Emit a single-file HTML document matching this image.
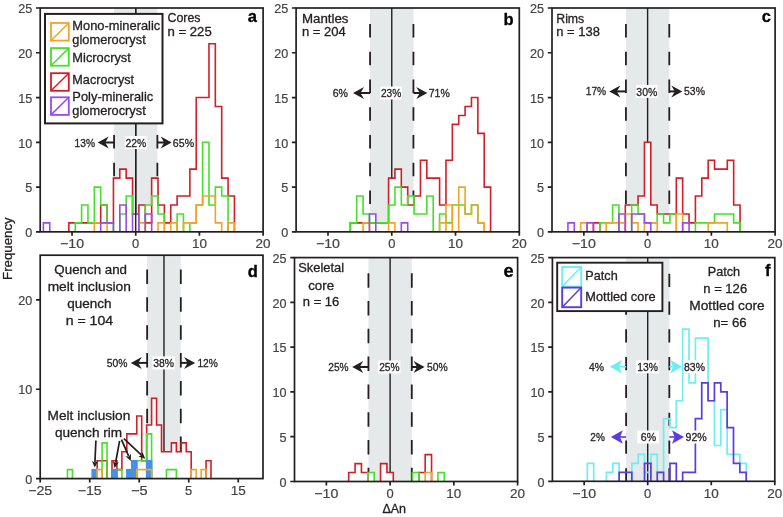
<!DOCTYPE html>
<html><head><meta charset="utf-8"><style>
html,body{margin:0;padding:0;background:#fff;}
svg{display:block;filter:blur(0.3px);font-family:"Liberation Sans", sans-serif;}
</style></head><body>
<svg width="783" height="517" viewBox="0 0 783 517">
<rect width="783" height="517" fill="#fff"/>
<rect x="114.08" y="8.00" width="43.31" height="223.85" fill="#e5e9e9"/>
<path d="M114.08 23.90V37.40M114.08 51.67V65.17M114.08 79.44V92.94M114.08 107.21V120.71M114.08 134.98V148.48M114.08 162.75V176.25M114.08 190.52V204.02M114.08 218.29V231.79" stroke="#231f20" stroke-width="1.8" fill="none"/>
<path d="M157.38 23.90V37.40M157.38 51.67V65.17M157.38 79.44V92.94M157.38 107.21V120.71M157.38 134.98V148.48M157.38 162.75V176.25M157.38 190.52V204.02M157.38 218.29V231.79" stroke="#231f20" stroke-width="1.8" fill="none"/>
<path d="M135.73 8.00V231.85" stroke="#231f20" stroke-width="1.4" fill="none"/>
<rect x="370.07" y="8.00" width="43.36" height="223.85" fill="#e5e9e9"/>
<path d="M370.07 23.90V37.40M370.07 51.67V65.17M370.07 79.44V92.94M370.07 107.21V120.71M370.07 134.98V148.48M370.07 162.75V176.25M370.07 190.52V204.02M370.07 218.29V231.79" stroke="#231f20" stroke-width="1.8" fill="none"/>
<path d="M413.44 23.90V37.40M413.44 51.67V65.17M413.44 79.44V92.94M413.44 107.21V120.71M413.44 134.98V148.48M413.44 162.75V176.25M413.44 190.52V204.02M413.44 218.29V231.79" stroke="#231f20" stroke-width="1.8" fill="none"/>
<path d="M391.76 8.00V231.85" stroke="#231f20" stroke-width="1.4" fill="none"/>
<rect x="625.94" y="8.00" width="43.35" height="223.85" fill="#e5e9e9"/>
<path d="M625.94 23.90V37.40M625.94 51.67V65.17M625.94 79.44V92.94M625.94 107.21V120.71M625.94 134.98V148.48M625.94 162.75V176.25M625.94 190.52V204.02M625.94 218.29V231.79" stroke="#231f20" stroke-width="1.8" fill="none"/>
<path d="M669.29 23.90V37.40M669.29 51.67V65.17M669.29 79.44V92.94M669.29 107.21V120.71M669.29 134.98V148.48M669.29 162.75V176.25M669.29 190.52V204.02M669.29 218.29V231.79" stroke="#231f20" stroke-width="1.8" fill="none"/>
<path d="M647.61 8.00V231.85" stroke="#231f20" stroke-width="1.4" fill="none"/>
<rect x="147.14" y="255.20" width="33.67" height="223.40" fill="#e5e9e9"/>
<path d="M147.14 269.50V284.00M147.14 297.35V311.85M147.14 325.20V339.70M147.14 353.05V367.55M147.14 380.90V395.40M147.14 408.75V423.25M147.14 436.60V451.10M147.14 464.45V478.60" stroke="#231f20" stroke-width="1.8" fill="none"/>
<path d="M180.81 269.50V284.00M180.81 297.35V311.85M180.81 325.20V339.70M180.81 353.05V367.55M180.81 380.90V395.40M180.81 408.75V423.25M180.81 436.60V451.10M180.81 464.45V478.60" stroke="#231f20" stroke-width="1.8" fill="none"/>
<path d="M163.98 255.20V478.60" stroke="#231f20" stroke-width="1.4" fill="none"/>
<rect x="368.44" y="257.60" width="43.35" height="223.90" fill="#e5e9e9"/>
<path d="M368.44 273.20V287.70M368.44 301.00V315.50M368.44 328.80V343.30M368.44 356.60V371.10M368.44 384.40V398.90M368.44 412.20V426.70M368.44 440.00V454.50M368.44 467.80V481.50" stroke="#231f20" stroke-width="1.8" fill="none"/>
<path d="M411.79 273.20V287.70M411.79 301.00V315.50M411.79 328.80V343.30M411.79 356.60V371.10M411.79 384.40V398.90M411.79 412.20V426.70M411.79 440.00V454.50M411.79 467.80V481.50" stroke="#231f20" stroke-width="1.8" fill="none"/>
<path d="M390.11 257.60V481.50" stroke="#231f20" stroke-width="1.4" fill="none"/>
<rect x="626.11" y="257.60" width="43.21" height="223.70" fill="#e5e9e9"/>
<path d="M626.11 273.70V286.90M626.11 301.50V314.70M626.11 329.30V342.50M626.11 357.10V370.30M626.11 384.90V398.10M626.11 412.70V425.90M626.11 440.50V453.70M626.11 468.30V481.30" stroke="#231f20" stroke-width="1.8" fill="none"/>
<path d="M669.32 273.70V286.90M669.32 301.50V314.70M669.32 329.30V342.50M669.32 357.10V370.30M669.32 384.90V398.10M669.32 412.70V425.90M669.32 440.50V453.70M669.32 468.30V481.30" stroke="#231f20" stroke-width="1.8" fill="none"/>
<path d="M647.71 257.60V481.30" stroke="#231f20" stroke-width="1.4" fill="none"/>
<path d="M43.38 231.85V222.90H49.75V231.85ZM68.86 231.85V222.90H75.23H81.60V204.99H87.96V222.90H94.33V187.08H100.70V204.99H107.07V222.90H113.44V178.13H119.81V169.17H126.18V178.13H132.54V213.94H138.91V204.99H145.28H151.65V178.13H158.02V204.99H164.39V222.90H170.76V204.99H177.12V196.03H183.49H189.86V169.17H196.23V97.54H202.60H208.97V43.82H215.34V106.49H221.70V178.13H228.07V196.03H234.44V231.85Z" fill="#fff" stroke="none"/>
<path d="M350.31 231.85V222.90H356.68V196.03H363.06V213.94H369.44H375.81V222.90H382.19H388.57V178.13H394.95V169.17H401.32V187.08H407.70V196.03H414.08H420.45V160.22H426.83V178.13H433.21H439.59V204.99H445.96V160.22H452.34V124.40H458.72V115.45H465.09V106.49H471.47V97.54H477.85V133.36H484.23V187.08H490.60V231.85Z" fill="#fff" stroke="none"/>
<path d="M567.94 231.85V222.90H574.31V231.85ZM580.68 231.85V222.90H587.06H593.43H599.81H606.18H612.56V204.99H618.93V213.94H625.30V204.99H631.68H638.05V196.03H644.43V142.31H650.80V204.99H657.18V213.94H663.55H669.92H676.30V178.13H682.67V213.94H689.05V222.90H695.42V196.03H701.80V178.13H708.17V160.22H714.54V169.17H720.92H727.29V160.22H733.67V204.99H740.04V231.85Z" fill="#fff" stroke="none"/>
<path d="M67.43 478.60V469.66H72.38V478.60ZM92.19 478.60V469.66H97.14V460.73H102.09V442.86H107.04V478.60ZM111.99 478.60V460.73H116.94V469.66H121.89V451.79H126.84V433.92H131.80H136.75V416.05H141.70V460.73H146.65V424.98H151.60V398.18H156.55V424.98H161.50V451.79H166.45H171.40V442.86H176.36V451.79H181.31V442.86H186.26V451.79H191.21V469.66H196.16V478.60ZM201.11 478.60V469.66H206.06V460.73H211.01V478.60Z" fill="#fff" stroke="none"/>
<path d="M348.68 481.50V472.54H355.06V463.59H361.43V472.54H367.80H374.18V481.50ZM380.55 481.50V463.59H386.93V472.54H393.30V481.50ZM412.42 481.50V472.54H418.80H425.17V454.63H431.55V481.50ZM437.92 481.50V472.54H444.30V481.50Z" fill="#fff" stroke="none"/>
<path d="M68.86 231.85V222.90H75.23H81.60H87.96H94.33H100.70V204.99H107.07V222.90H113.44V178.13H119.81V169.17H126.18V178.13H132.54V213.94H138.91V204.99H145.28V222.90H151.65V178.13H158.02V204.99H164.39V222.90H170.76V204.99H177.12V196.03H183.49H189.86V169.17H196.23V97.54H202.60H208.97V43.82H215.34V106.49H221.70V178.13H228.07V196.03H234.44V231.85" stroke="#d21e27" stroke-width="1.6" fill="none" stroke-linejoin="miter"/>
<path d="M75.23 231.85V222.90H81.60V204.99H87.96V222.90H94.33V187.08H100.70V204.99H107.07V222.90H113.44V231.85M119.81 231.85V213.94H126.18V196.03H132.54V213.94H138.91V231.85M145.28 231.85V204.99H151.65V196.03H158.02V213.94H164.39V231.85M177.12 231.85V213.94H183.49V231.85M189.86 231.85V222.90H196.23V204.99H202.60V142.31H208.97V204.99H215.34V187.08H221.70V196.03H228.07V231.85" stroke="#46e02a" stroke-width="1.6" fill="none" stroke-linejoin="miter"/>
<path d="M94.33 231.85V222.90H100.70H107.07V231.85M138.91 231.85V222.90H145.28V231.85M158.02 231.85V222.90H164.39V231.85M170.76 231.85V222.90H177.12V231.85M183.49 231.85V222.90H189.86H196.23V204.99H202.60V196.03H208.97H215.34V222.90H221.70V231.85M228.07 231.85V222.90H234.44V231.85" stroke="#f0a52a" stroke-width="1.6" fill="none" stroke-linejoin="miter"/>
<path d="M43.38 231.85V222.90H49.75V231.85M100.70 231.85V222.90H107.07H113.44V231.85M119.81 231.85V204.99H126.18V231.85M132.54 231.85V213.94H138.91V231.85M145.28 231.85V213.94H151.65V231.85" stroke="#9a4ce6" stroke-width="1.6" fill="none" stroke-linejoin="miter"/>
<path d="M135.73 8.00V231.85" stroke="#231f20" stroke-width="1.4" fill="none"/>
<path d="M350.31 231.85V222.90H356.68H363.06H369.44H375.81H382.19H388.57V178.13H394.95V169.17H401.32V187.08H407.70V204.99H414.08V196.03H420.45V160.22H426.83V178.13H433.21H439.59V204.99H445.96V160.22H452.34V124.40H458.72V115.45H465.09V106.49H471.47V97.54H477.85V133.36H484.23V187.08H490.60V231.85" stroke="#d21e27" stroke-width="1.6" fill="none" stroke-linejoin="miter"/>
<path d="M350.31 231.85V222.90H356.68V196.03H363.06V213.94H369.44V222.90H375.81H382.19H388.57V204.99H394.95V187.08H401.32V204.99H407.70V196.03H414.08V213.94H420.45H426.83V196.03H433.21V231.85M439.59 231.85V213.94H445.96V222.90H452.34V204.99H458.72H465.09V213.94H471.47V204.99H477.85V222.90H484.23V231.85" stroke="#46e02a" stroke-width="1.6" fill="none" stroke-linejoin="miter"/>
<path d="M363.06 231.85V222.90H369.44V231.85M388.57 231.85V222.90H394.95V231.85M439.59 231.85V222.90H445.96V204.99H452.34V231.85M458.72 231.85V187.08H465.09V213.94H471.47V204.99H477.85V222.90H484.23V231.85M445.96 231.85V222.90" stroke="#f0a52a" stroke-width="1.6" fill="none" stroke-linejoin="miter"/>
<path d="M369.44 231.85V213.94H375.81V231.85M401.32 231.85V222.90H407.70V231.85" stroke="#9a4ce6" stroke-width="1.6" fill="none" stroke-linejoin="miter"/>
<path d="M593.43 231.85V222.90H599.81V231.85M625.30 231.85V204.99H631.68H638.05V196.03H644.43V142.31H650.80V204.99H657.18V213.94H663.55H669.92H676.30V178.13H682.67V213.94H689.05V222.90H695.42V196.03H701.80V178.13H708.17V160.22H714.54V169.17H720.92H727.29V160.22H733.67V204.99H740.04V231.85" stroke="#d21e27" stroke-width="1.6" fill="none" stroke-linejoin="miter"/>
<path d="M599.81 231.85V222.90H606.18H612.56V204.99H618.93V231.85M631.68 231.85V204.99H638.05V213.94H644.43V222.90H650.80H657.18V213.94H663.55V222.90H669.92V213.94H676.30V231.85M695.42 231.85V222.90H701.80H708.17H714.54V213.94H720.92H727.29H733.67V222.90H740.04V231.85" stroke="#46e02a" stroke-width="1.6" fill="none" stroke-linejoin="miter"/>
<path d="M580.68 231.85V222.90H587.06V231.85M606.18 231.85V222.90H612.56H618.93H625.30V213.94H631.68V222.90H638.05V231.85M644.43 231.85V222.90H650.80H657.18V231.85M676.30 231.85V213.94H682.67V231.85M708.17 231.85V222.90H714.54H720.92H727.29V231.85" stroke="#f0a52a" stroke-width="1.6" fill="none" stroke-linejoin="miter"/>
<path d="M567.94 231.85V222.90H574.31V231.85M587.06 231.85V222.90H593.43V231.85M618.93 231.85V213.94H625.30V231.85M631.68 231.85V213.94H638.05H644.43V222.90H650.80V231.85M682.67 231.85V222.90H689.05V231.85" stroke="#9a4ce6" stroke-width="1.6" fill="none" stroke-linejoin="miter"/>
<path d="M97.14 478.60V460.73H102.09H107.04V478.60M111.99 478.60V460.73H116.94V469.66H121.89V451.79H126.84V433.92H131.80H136.75V416.05H141.70V460.73H146.65V424.98H151.60V398.18H156.55V424.98H161.50V451.79H166.45H171.40V442.86H176.36V451.79H181.31V442.86H186.26V451.79H191.21V478.60M206.06 478.60V460.73H211.01V478.60" stroke="#d21e27" stroke-width="1.6" fill="none" stroke-linejoin="miter"/>
<path d="M67.43 478.60V469.66H72.38V478.60M102.09 478.60V442.86H107.04V478.60M116.94 478.60V469.66H121.89V478.60M136.75 478.60V460.73H141.70H146.65V433.92H151.60V478.60M166.45 478.60V469.66H171.40H176.36V478.60" stroke="#46e02a" stroke-width="1.6" fill="none" stroke-linejoin="miter"/>
<rect x="91.39" y="468.86" width="6.55" height="9.74" fill="#4a90e2"/><rect x="111.19" y="468.86" width="6.55" height="9.74" fill="#4a90e2"/><rect x="126.04" y="468.86" width="6.55" height="9.74" fill="#4a90e2"/><rect x="131.00" y="459.93" width="6.55" height="18.67" fill="#4a90e2"/><rect x="145.85" y="459.93" width="6.55" height="18.67" fill="#4a90e2"/>
<path d="M97.14 478.60V469.66H102.09V478.60M136.75 478.60V469.66H141.70H146.65H151.60V478.60M191.21 478.60V469.66H196.16V478.60M201.11 478.60V469.66H206.06V478.60" stroke="#f0a52a" stroke-width="1.6" fill="none" stroke-linejoin="miter"/>
<path d="M348.68 481.50V472.54H355.06V463.59H361.43V472.54H367.80V481.50M380.55 481.50V463.59H386.93V472.54H393.30V481.50M418.80 481.50V472.54H425.17V454.63H431.55V481.50" stroke="#d21e27" stroke-width="1.6" fill="none" stroke-linejoin="miter"/>
<path d="M367.80 481.50V472.54H374.18V481.50M412.42 481.50V472.54H418.80V481.50M437.92 481.50V472.54H444.30V481.50" stroke="#46e02a" stroke-width="1.6" fill="none" stroke-linejoin="miter"/>
<path d="M425.17 481.50V472.54H431.55V481.50" stroke="#f0a52a" stroke-width="1.6" fill="none" stroke-linejoin="miter"/>
<path d="M587.35 481.30V463.40H593.70V481.30M606.41 481.30V472.35H612.77V463.40H619.12V481.30M631.83 481.30V463.40H638.18V454.46H644.54V472.35H650.89V454.46H657.25V472.35H663.60V418.66H669.95V427.61H676.31V400.77H682.66V329.18H689.02V382.87H695.37V338.13H701.73H708.08V400.77H714.43V445.51H720.79V409.72H727.14V454.46H733.50H739.85V463.40H746.21V481.30" stroke="#6eeef2" stroke-width="1.7" fill="none" stroke-linejoin="miter"/>
<path d="M619.12 481.30V472.35H625.47H631.83V481.30M644.54 481.30V463.40H650.89V481.30M657.25 481.30V472.35H663.60V481.30M669.95 481.30V463.40H676.31V481.30M682.66 481.30V472.35H689.02H695.37V418.66H701.73V382.87H708.08V400.77H714.43V382.87H720.79V391.82H727.14V427.61H733.50V463.40H739.85V472.35H746.21V481.30" stroke="#5b3ce0" stroke-width="1.7" fill="none" stroke-linejoin="miter"/>
<rect x="40.20" y="8.00" width="222.90" height="223.85" fill="none" stroke="#231f20" stroke-width="1.7"/>
<path d="M36.00 231.85H40.20M36.00 187.08H40.20M36.00 142.31H40.20M36.00 97.54H40.20M36.00 52.77H40.20M36.00 8.00H40.20M72.04 231.85V235.85M135.73 231.85V235.85M199.41 231.85V235.85M263.10 231.85V235.85" stroke="#231f20" stroke-width="1.7" fill="none"/>
<text x="32.30" y="237.05" font-size="12.6" text-anchor="end" fill="#444444" stroke="#444444" stroke-width="0.2">0</text>
<text x="32.30" y="192.28" font-size="12.6" text-anchor="end" fill="#444444" stroke="#444444" stroke-width="0.2">5</text>
<text x="32.30" y="147.51" font-size="12.6" text-anchor="end" fill="#444444" stroke="#444444" stroke-width="0.2">10</text>
<text x="32.30" y="102.74" font-size="12.6" text-anchor="end" fill="#444444" stroke="#444444" stroke-width="0.2">15</text>
<text x="32.30" y="57.97" font-size="12.6" text-anchor="end" fill="#444444" stroke="#444444" stroke-width="0.2">20</text>
<text x="32.30" y="13.20" font-size="12.6" text-anchor="end" fill="#444444" stroke="#444444" stroke-width="0.2">25</text>
<text x="72.04" y="248.05" font-size="12.6" text-anchor="middle" textLength="24.0" lengthAdjust="spacingAndGlyphs" fill="#444444" stroke="#444444" stroke-width="0.2">−10</text>
<text x="135.73" y="248.05" font-size="12.6" text-anchor="middle" textLength="7.2" lengthAdjust="spacingAndGlyphs" fill="#444444" stroke="#444444" stroke-width="0.2">0</text>
<text x="199.41" y="248.05" font-size="12.6" text-anchor="middle" textLength="15.0" lengthAdjust="spacingAndGlyphs" fill="#444444" stroke="#444444" stroke-width="0.2">10</text>
<text x="263.10" y="248.05" font-size="12.6" text-anchor="middle" textLength="15.0" lengthAdjust="spacingAndGlyphs" fill="#444444" stroke="#444444" stroke-width="0.2">20</text>
<rect x="296.10" y="8.00" width="223.20" height="223.85" fill="none" stroke="#231f20" stroke-width="1.7"/>
<path d="M291.90 231.85H296.10M291.90 187.08H296.10M291.90 142.31H296.10M291.90 97.54H296.10M291.90 52.77H296.10M291.90 8.00H296.10M327.99 231.85V235.85M391.76 231.85V235.85M455.53 231.85V235.85M519.30 231.85V235.85" stroke="#231f20" stroke-width="1.7" fill="none"/>
<text x="288.20" y="237.05" font-size="12.6" text-anchor="end" fill="#444444" stroke="#444444" stroke-width="0.2">0</text>
<text x="288.20" y="192.28" font-size="12.6" text-anchor="end" fill="#444444" stroke="#444444" stroke-width="0.2">5</text>
<text x="288.20" y="147.51" font-size="12.6" text-anchor="end" fill="#444444" stroke="#444444" stroke-width="0.2">10</text>
<text x="288.20" y="102.74" font-size="12.6" text-anchor="end" fill="#444444" stroke="#444444" stroke-width="0.2">15</text>
<text x="288.20" y="57.97" font-size="12.6" text-anchor="end" fill="#444444" stroke="#444444" stroke-width="0.2">20</text>
<text x="288.20" y="13.20" font-size="12.6" text-anchor="end" fill="#444444" stroke="#444444" stroke-width="0.2">25</text>
<text x="327.99" y="248.05" font-size="12.6" text-anchor="middle" textLength="24.0" lengthAdjust="spacingAndGlyphs" fill="#444444" stroke="#444444" stroke-width="0.2">−10</text>
<text x="391.76" y="248.05" font-size="12.6" text-anchor="middle" textLength="7.2" lengthAdjust="spacingAndGlyphs" fill="#444444" stroke="#444444" stroke-width="0.2">0</text>
<text x="455.53" y="248.05" font-size="12.6" text-anchor="middle" textLength="15.0" lengthAdjust="spacingAndGlyphs" fill="#444444" stroke="#444444" stroke-width="0.2">10</text>
<text x="519.30" y="248.05" font-size="12.6" text-anchor="middle" textLength="15.0" lengthAdjust="spacingAndGlyphs" fill="#444444" stroke="#444444" stroke-width="0.2">20</text>
<rect x="552.00" y="8.00" width="223.10" height="223.85" fill="none" stroke="#231f20" stroke-width="1.7"/>
<path d="M547.80 231.85H552.00M547.80 187.08H552.00M547.80 142.31H552.00M547.80 97.54H552.00M547.80 52.77H552.00M547.80 8.00H552.00M583.87 231.85V235.85M647.61 231.85V235.85M711.36 231.85V235.85M775.10 231.85V235.85" stroke="#231f20" stroke-width="1.7" fill="none"/>
<text x="544.10" y="237.05" font-size="12.6" text-anchor="end" fill="#444444" stroke="#444444" stroke-width="0.2">0</text>
<text x="544.10" y="192.28" font-size="12.6" text-anchor="end" fill="#444444" stroke="#444444" stroke-width="0.2">5</text>
<text x="544.10" y="147.51" font-size="12.6" text-anchor="end" fill="#444444" stroke="#444444" stroke-width="0.2">10</text>
<text x="544.10" y="102.74" font-size="12.6" text-anchor="end" fill="#444444" stroke="#444444" stroke-width="0.2">15</text>
<text x="544.10" y="57.97" font-size="12.6" text-anchor="end" fill="#444444" stroke="#444444" stroke-width="0.2">20</text>
<text x="544.10" y="13.20" font-size="12.6" text-anchor="end" fill="#444444" stroke="#444444" stroke-width="0.2">25</text>
<text x="583.87" y="248.05" font-size="12.6" text-anchor="middle" textLength="24.0" lengthAdjust="spacingAndGlyphs" fill="#444444" stroke="#444444" stroke-width="0.2">−10</text>
<text x="647.61" y="248.05" font-size="12.6" text-anchor="middle" textLength="7.2" lengthAdjust="spacingAndGlyphs" fill="#444444" stroke="#444444" stroke-width="0.2">0</text>
<text x="711.36" y="248.05" font-size="12.6" text-anchor="middle" textLength="15.0" lengthAdjust="spacingAndGlyphs" fill="#444444" stroke="#444444" stroke-width="0.2">10</text>
<text x="775.10" y="248.05" font-size="12.6" text-anchor="middle" textLength="15.0" lengthAdjust="spacingAndGlyphs" fill="#444444" stroke="#444444" stroke-width="0.2">20</text>
<rect x="294.50" y="257.60" width="223.10" height="223.90" fill="none" stroke="#231f20" stroke-width="1.7"/>
<path d="M290.30 481.50H294.50M290.30 436.72H294.50M290.30 391.94H294.50M290.30 347.16H294.50M290.30 302.38H294.50M290.30 257.60H294.50M326.37 481.50V485.50M390.11 481.50V485.50M453.86 481.50V485.50M517.60 481.50V485.50" stroke="#231f20" stroke-width="1.7" fill="none"/>
<text x="286.60" y="486.70" font-size="12.6" text-anchor="end" fill="#444444" stroke="#444444" stroke-width="0.2">0</text>
<text x="286.60" y="441.92" font-size="12.6" text-anchor="end" fill="#444444" stroke="#444444" stroke-width="0.2">5</text>
<text x="286.60" y="397.14" font-size="12.6" text-anchor="end" fill="#444444" stroke="#444444" stroke-width="0.2">10</text>
<text x="286.60" y="352.36" font-size="12.6" text-anchor="end" fill="#444444" stroke="#444444" stroke-width="0.2">15</text>
<text x="286.60" y="307.58" font-size="12.6" text-anchor="end" fill="#444444" stroke="#444444" stroke-width="0.2">20</text>
<text x="286.60" y="262.80" font-size="12.6" text-anchor="end" fill="#444444" stroke="#444444" stroke-width="0.2">25</text>
<text x="326.37" y="497.70" font-size="12.6" text-anchor="middle" textLength="24.0" lengthAdjust="spacingAndGlyphs" fill="#444444" stroke="#444444" stroke-width="0.2">−10</text>
<text x="390.11" y="497.70" font-size="12.6" text-anchor="middle" textLength="7.2" lengthAdjust="spacingAndGlyphs" fill="#444444" stroke="#444444" stroke-width="0.2">0</text>
<text x="453.86" y="497.70" font-size="12.6" text-anchor="middle" textLength="15.0" lengthAdjust="spacingAndGlyphs" fill="#444444" stroke="#444444" stroke-width="0.2">10</text>
<text x="517.60" y="497.70" font-size="12.6" text-anchor="middle" textLength="15.0" lengthAdjust="spacingAndGlyphs" fill="#444444" stroke="#444444" stroke-width="0.2">20</text>
<rect x="552.40" y="257.60" width="222.40" height="223.70" fill="none" stroke="#231f20" stroke-width="1.7"/>
<path d="M548.20 481.30H552.40M548.20 436.56H552.40M548.20 391.82H552.40M548.20 347.08H552.40M548.20 302.34H552.40M548.20 257.60H552.40M584.17 481.30V485.30M647.71 481.30V485.30M711.26 481.30V485.30M774.80 481.30V485.30" stroke="#231f20" stroke-width="1.7" fill="none"/>
<text x="544.50" y="486.50" font-size="12.6" text-anchor="end" fill="#444444" stroke="#444444" stroke-width="0.2">0</text>
<text x="544.50" y="441.76" font-size="12.6" text-anchor="end" fill="#444444" stroke="#444444" stroke-width="0.2">5</text>
<text x="544.50" y="397.02" font-size="12.6" text-anchor="end" fill="#444444" stroke="#444444" stroke-width="0.2">10</text>
<text x="544.50" y="352.28" font-size="12.6" text-anchor="end" fill="#444444" stroke="#444444" stroke-width="0.2">15</text>
<text x="544.50" y="307.54" font-size="12.6" text-anchor="end" fill="#444444" stroke="#444444" stroke-width="0.2">20</text>
<text x="544.50" y="262.80" font-size="12.6" text-anchor="end" fill="#444444" stroke="#444444" stroke-width="0.2">25</text>
<text x="584.17" y="497.50" font-size="12.6" text-anchor="middle" textLength="24.0" lengthAdjust="spacingAndGlyphs" fill="#444444" stroke="#444444" stroke-width="0.2">−10</text>
<text x="647.71" y="497.50" font-size="12.6" text-anchor="middle" textLength="7.2" lengthAdjust="spacingAndGlyphs" fill="#444444" stroke="#444444" stroke-width="0.2">0</text>
<text x="711.26" y="497.50" font-size="12.6" text-anchor="middle" textLength="15.0" lengthAdjust="spacingAndGlyphs" fill="#444444" stroke="#444444" stroke-width="0.2">10</text>
<text x="774.80" y="497.50" font-size="12.6" text-anchor="middle" textLength="15.0" lengthAdjust="spacingAndGlyphs" fill="#444444" stroke="#444444" stroke-width="0.2">20</text>
<rect x="40.20" y="255.20" width="222.80" height="223.40" fill="none" stroke="#231f20" stroke-width="1.7"/>
<path d="M36.00 478.60H40.20M36.00 389.24H40.20M36.00 299.88H40.20M40.20 478.60V482.60M89.71 478.60V482.60M139.22 478.60V482.60M188.73 478.60V482.60M238.24 478.60V482.60" stroke="#231f20" stroke-width="1.7" fill="none"/>
<text x="32.30" y="483.80" font-size="12.6" text-anchor="end" fill="#444444" stroke="#444444" stroke-width="0.2">0</text>
<text x="32.30" y="394.44" font-size="12.6" text-anchor="end" fill="#444444" stroke="#444444" stroke-width="0.2">10</text>
<text x="32.30" y="305.08" font-size="12.6" text-anchor="end" fill="#444444" stroke="#444444" stroke-width="0.2">20</text>
<text x="40.20" y="494.80" font-size="12.6" text-anchor="middle" textLength="24.0" lengthAdjust="spacingAndGlyphs" fill="#444444" stroke="#444444" stroke-width="0.2">−25</text>
<text x="89.71" y="494.80" font-size="12.6" text-anchor="middle" textLength="24.0" lengthAdjust="spacingAndGlyphs" fill="#444444" stroke="#444444" stroke-width="0.2">−15</text>
<text x="139.22" y="494.80" font-size="12.6" text-anchor="middle" textLength="16.6" lengthAdjust="spacingAndGlyphs" fill="#444444" stroke="#444444" stroke-width="0.2">−5</text>
<text x="188.73" y="494.80" font-size="12.6" text-anchor="middle" textLength="7.2" lengthAdjust="spacingAndGlyphs" fill="#444444" stroke="#444444" stroke-width="0.2">5</text>
<text x="238.24" y="494.80" font-size="12.6" text-anchor="middle" textLength="15.0" lengthAdjust="spacingAndGlyphs" fill="#444444" stroke="#444444" stroke-width="0.2">15</text>
<text x="247.80" y="21.80" font-size="16.5" font-weight="bold" fill="#000" stroke="#000" stroke-width="0.3">a</text>
<text x="503.60" y="25.00" font-size="16.5" font-weight="bold" fill="#000" stroke="#000" stroke-width="0.3">b</text>
<text x="761.80" y="21.90" font-size="16.5" font-weight="bold" fill="#000" stroke="#000" stroke-width="0.3">c</text>
<text x="247.70" y="276.90" font-size="16.5" font-weight="bold" fill="#000" stroke="#000" stroke-width="0.3">d</text>
<text x="765.00" y="275.50" font-size="16.5" font-weight="bold" fill="#000" stroke="#000" stroke-width="0.3">f</text>
<text x="503.60" y="276.50" font-size="18.2" font-weight="bold" fill="#000" stroke="#000" stroke-width="0.3">e</text>
<text x="167.45" y="22.40" font-size="12.5" textLength="33.07" lengthAdjust="spacingAndGlyphs" fill="#231f20" stroke="#231f20" stroke-width="0.3">Cores</text>
<text x="167.45" y="35.60" font-size="12.5" textLength="44.29" lengthAdjust="spacingAndGlyphs" fill="#231f20" stroke="#231f20" stroke-width="0.3">n = 225</text>
<rect x="45.0" y="13.9" width="117.5" height="109.5" fill="#fff" stroke="#231f20" stroke-width="2.0"/>
<rect x="51.0" y="23.0" width="17.8" height="17.6" fill="none" stroke="#f0a52a" stroke-width="1.8"/>
<path d="M51.0 40.6L68.8 23.0" stroke="#f0a52a" stroke-width="1.5"/>
<rect x="51.0" y="48.1" width="17.8" height="17.6" fill="none" stroke="#46e02a" stroke-width="1.8"/>
<path d="M51.0 65.7L68.8 48.1" stroke="#46e02a" stroke-width="1.5"/>
<rect x="51.0" y="73.2" width="17.8" height="17.6" fill="none" stroke="#d21e27" stroke-width="1.8"/>
<path d="M51.0 90.8L68.8 73.2" stroke="#d21e27" stroke-width="1.5"/>
<rect x="51.0" y="97.3" width="17.8" height="17.6" fill="none" stroke="#9a4ce6" stroke-width="1.8"/>
<path d="M51.0 114.9L68.8 97.3" stroke="#9a4ce6" stroke-width="1.5"/>
<text x="72.35" y="29.60" font-size="12.6" textLength="87.91" lengthAdjust="spacingAndGlyphs" fill="#231f20" stroke="#231f20" stroke-width="0.3">Mono-mineralic</text>
<text x="72.35" y="44.00" font-size="12.6" textLength="73.38" lengthAdjust="spacingAndGlyphs" fill="#231f20" stroke="#231f20" stroke-width="0.3">glomerocryst</text>
<text x="72.35" y="61.80" font-size="12.6" textLength="58.5" lengthAdjust="spacingAndGlyphs" fill="#231f20" stroke="#231f20" stroke-width="0.3">Microcryst</text>
<text x="72.35" y="84.10" font-size="12.6" textLength="61.79" lengthAdjust="spacingAndGlyphs" fill="#231f20" stroke="#231f20" stroke-width="0.3">Macrocryst</text>
<text x="72.35" y="100.70" font-size="12.6" textLength="80.89" lengthAdjust="spacingAndGlyphs" fill="#231f20" stroke="#231f20" stroke-width="0.3">Poly-mineralic</text>
<text x="72.35" y="114.80" font-size="12.6" textLength="73.38" lengthAdjust="spacingAndGlyphs" fill="#231f20" stroke="#231f20" stroke-width="0.3">glomerocryst</text>
<path d="M97.70 142.50L108.70 136.50L105.20 142.50L108.70 148.50Z" fill="#231f20"/>
<path d="M104.70 142.50H114.08" stroke="#231f20" stroke-width="2.0"/>
<path d="M171.70 142.50L160.70 136.50L164.20 142.50L160.70 148.50Z" fill="#231f20"/>
<path d="M157.38 142.50H164.70" stroke="#231f20" stroke-width="2.0"/>
<text x="74.55" y="146.70" font-size="11.2" textLength="20.42" lengthAdjust="spacingAndGlyphs" fill="#231f20" stroke="#231f20" stroke-width="0.3">13%</text>
<rect x="124.90" y="136.00" width="21.90" height="13.00" fill="#fff"/>
<text x="125.45" y="146.60" font-size="11.2" textLength="20.82" lengthAdjust="spacingAndGlyphs" fill="#231f20" stroke="#231f20" stroke-width="0.3">22%</text>
<text x="172.85" y="146.70" font-size="11.2" textLength="21.22" lengthAdjust="spacingAndGlyphs" fill="#231f20" stroke="#231f20" stroke-width="0.3">65%</text>
<text x="301.95" y="22.50" font-size="12.5" textLength="46.52" lengthAdjust="spacingAndGlyphs" fill="#231f20" stroke="#231f20" stroke-width="0.3">Mantles</text>
<text x="301.95" y="35.80" font-size="12.5" textLength="43.89" lengthAdjust="spacingAndGlyphs" fill="#231f20" stroke="#231f20" stroke-width="0.3">n = 204</text>
<path d="M353.00 93.00L364.00 87.00L360.50 93.00L364.00 99.00Z" fill="#231f20"/>
<path d="M360.00 93.00H370.07" stroke="#231f20" stroke-width="2.0"/>
<path d="M427.30 93.00L416.30 87.00L419.80 93.00L416.30 99.00Z" fill="#231f20"/>
<path d="M413.44 93.00H420.30" stroke="#231f20" stroke-width="2.0"/>
<text x="332.65" y="97.00" font-size="11.2" textLength="15.3" lengthAdjust="spacingAndGlyphs" fill="#231f20" stroke="#231f20" stroke-width="0.3">6%</text>
<rect x="380.35" y="86.50" width="21.50" height="13.00" fill="#fff"/>
<text x="380.95" y="97.10" font-size="11.2" textLength="20.32" lengthAdjust="spacingAndGlyphs" fill="#231f20" stroke="#231f20" stroke-width="0.3">23%</text>
<text x="428.75" y="97.00" font-size="11.2" textLength="21.02" lengthAdjust="spacingAndGlyphs" fill="#231f20" stroke="#231f20" stroke-width="0.3">71%</text>
<text x="556.25" y="22.50" font-size="12.5" textLength="28.03" lengthAdjust="spacingAndGlyphs" fill="#231f20" stroke="#231f20" stroke-width="0.3">Rims</text>
<text x="556.25" y="35.80" font-size="12.5" textLength="43.59" lengthAdjust="spacingAndGlyphs" fill="#231f20" stroke="#231f20" stroke-width="0.3">n = 138</text>
<path d="M609.30 91.40L620.30 85.40L616.80 91.40L620.30 97.40Z" fill="#231f20"/>
<path d="M616.30 91.40H625.94" stroke="#231f20" stroke-width="2.0"/>
<path d="M682.30 91.40L671.30 85.40L674.80 91.40L671.30 97.40Z" fill="#231f20"/>
<path d="M669.29 91.40H675.30" stroke="#231f20" stroke-width="2.0"/>
<text x="585.75" y="95.40" font-size="11.2" textLength="20.42" lengthAdjust="spacingAndGlyphs" fill="#231f20" stroke="#231f20" stroke-width="0.3">17%</text>
<rect x="636.05" y="84.90" width="21.50" height="13.00" fill="#fff"/>
<text x="636.35" y="95.50" font-size="11.2" textLength="20.92" lengthAdjust="spacingAndGlyphs" fill="#231f20" stroke="#231f20" stroke-width="0.3">30%</text>
<text x="684.05" y="95.40" font-size="11.2" textLength="20.92" lengthAdjust="spacingAndGlyphs" fill="#231f20" stroke="#231f20" stroke-width="0.3">53%</text>
<text x="54.35" y="273.90" font-size="12.5" textLength="72.68" lengthAdjust="spacingAndGlyphs" fill="#231f20" stroke="#231f20" stroke-width="0.3">Quench and</text>
<text x="47.65" y="290.90" font-size="12.5" textLength="83.28" lengthAdjust="spacingAndGlyphs" fill="#231f20" stroke="#231f20" stroke-width="0.3">melt inclusion</text>
<text x="67.25" y="307.60" font-size="12.5" textLength="44.31" lengthAdjust="spacingAndGlyphs" fill="#231f20" stroke="#231f20" stroke-width="0.3">quench</text>
<text x="65.65" y="324.70" font-size="12.5" textLength="47.53" lengthAdjust="spacingAndGlyphs" fill="#231f20" stroke="#231f20" stroke-width="0.3">n  = 104</text>
<path d="M130.80 362.90L141.80 356.90L138.30 362.90L141.80 368.90Z" fill="#231f20"/>
<path d="M137.80 362.90H147.14" stroke="#231f20" stroke-width="2.0"/>
<path d="M195.10 362.90L184.10 356.90L187.60 362.90L184.10 368.90Z" fill="#231f20"/>
<path d="M180.81 362.90H188.10" stroke="#231f20" stroke-width="2.0"/>
<text x="106.85" y="367.10" font-size="11.2" textLength="20.72" lengthAdjust="spacingAndGlyphs" fill="#231f20" stroke="#231f20" stroke-width="0.3">50%</text>
<rect x="152.40" y="356.40" width="22.40" height="13.00" fill="#fff"/>
<text x="153.25" y="367.00" font-size="11.2" textLength="20.82" lengthAdjust="spacingAndGlyphs" fill="#231f20" stroke="#231f20" stroke-width="0.3">38%</text>
<text x="197.45" y="367.10" font-size="11.2" textLength="20.42" lengthAdjust="spacingAndGlyphs" fill="#231f20" stroke="#231f20" stroke-width="0.3">12%</text>
<text x="298.25" y="272.40" font-size="12.5" textLength="45.87" lengthAdjust="spacingAndGlyphs" fill="#231f20" stroke="#231f20" stroke-width="0.3">Skeletal</text>
<text x="308.15" y="289.60" font-size="12.5" textLength="25.91" lengthAdjust="spacingAndGlyphs" fill="#231f20" stroke="#231f20" stroke-width="0.3">core</text>
<text x="302.85" y="305.90" font-size="12.5" textLength="36.48" lengthAdjust="spacingAndGlyphs" fill="#231f20" stroke="#231f20" stroke-width="0.3">n = 16</text>
<path d="M352.20 367.00L363.20 361.00L359.70 367.00L363.20 373.00Z" fill="#231f20"/>
<path d="M359.20 367.00H368.44" stroke="#231f20" stroke-width="2.0"/>
<path d="M424.60 367.00L413.60 361.00L417.10 367.00L413.60 373.00Z" fill="#231f20"/>
<path d="M411.79 367.00H417.60" stroke="#231f20" stroke-width="2.0"/>
<text x="328.25" y="371.00" font-size="11.2" textLength="20.32" lengthAdjust="spacingAndGlyphs" fill="#231f20" stroke="#231f20" stroke-width="0.3">25%</text>
<rect x="378.10" y="360.50" width="22.40" height="13.00" fill="#fff"/>
<text x="379.15" y="371.10" font-size="11.2" textLength="20.42" lengthAdjust="spacingAndGlyphs" fill="#231f20" stroke="#231f20" stroke-width="0.3">25%</text>
<text x="426.95" y="371.00" font-size="11.2" textLength="20.72" lengthAdjust="spacingAndGlyphs" fill="#231f20" stroke="#231f20" stroke-width="0.3">50%</text>
<rect x="557.2" y="262.7" width="105.2" height="48.4" fill="#fff" stroke="#231f20" stroke-width="1.9"/>
<rect x="562.2" y="267.0" width="19.0" height="19.6" fill="none" stroke="#6eeef2" stroke-width="1.9"/>
<path d="M562.2 286.6L581.2 267.0" stroke="#6eeef2" stroke-width="1.5"/>
<rect x="562.2" y="287.6" width="19.0" height="19.6" fill="none" stroke="#5b3ce0" stroke-width="1.9"/>
<path d="M562.2 307.2L581.2 287.6" stroke="#5b3ce0" stroke-width="1.5"/>
<text x="585.35" y="279.70" font-size="12.6" textLength="32.33" lengthAdjust="spacingAndGlyphs" fill="#231f20" stroke="#231f20" stroke-width="0.3">Patch</text>
<text x="585.35" y="301.40" font-size="12.6" textLength="70.27" lengthAdjust="spacingAndGlyphs" fill="#231f20" stroke="#231f20" stroke-width="0.3">Mottled core</text>
<text x="707.75" y="276.00" font-size="12.5" textLength="32.43" lengthAdjust="spacingAndGlyphs" fill="#231f20" stroke="#231f20" stroke-width="0.3">Patch</text>
<text x="703.25" y="293.10" font-size="12.5" textLength="43.89" lengthAdjust="spacingAndGlyphs" fill="#231f20" stroke="#231f20" stroke-width="0.3">n = 126</text>
<text x="689.35" y="310.10" font-size="12.5" textLength="75.37" lengthAdjust="spacingAndGlyphs" fill="#231f20" stroke="#231f20" stroke-width="0.3">Mottled core</text>
<text x="713.15" y="327.30" font-size="12.5" textLength="33.5" lengthAdjust="spacingAndGlyphs" fill="#231f20" stroke="#231f20" stroke-width="0.3">n= 66</text>
<path d="M609.90 366.80L621.90 360.10L619.20 366.80L621.90 373.50Z" fill="#6eeef2"/>
<path d="M618.70 366.80H626.11" stroke="#6eeef2" stroke-width="1.6"/>
<path d="M682.30 366.80L670.30 360.10L673.00 366.80L670.30 373.50Z" fill="#6eeef2"/>
<path d="M669.32 366.80H673.50" stroke="#6eeef2" stroke-width="1.6"/>
<text x="588.95" y="371.00" font-size="11.2" textLength="15.0" lengthAdjust="spacingAndGlyphs" fill="#231f20" stroke="#231f20" stroke-width="0.3">4%</text>
<rect x="636.05" y="360.30" width="22.90" height="13.00" fill="#fff"/>
<text x="637.25" y="370.90" font-size="11.2" textLength="20.72" lengthAdjust="spacingAndGlyphs" fill="#231f20" stroke="#231f20" stroke-width="0.3">13%</text>
<rect x="683.6" y="360.3" width="21.8" height="13" fill="#fff"/>
<text x="684.05" y="371.00" font-size="11.2" textLength="20.92" lengthAdjust="spacingAndGlyphs" fill="#231f20" stroke="#231f20" stroke-width="0.3">83%</text>
<path d="M610.80 437.00L622.80 430.30L620.10 437.00L622.80 443.70Z" fill="#5b3ce0"/>
<path d="M619.60 437.00H626.11" stroke="#5b3ce0" stroke-width="1.6"/>
<path d="M684.00 437.00L672.00 430.30L674.70 437.00L672.00 443.70Z" fill="#5b3ce0"/>
<path d="M669.32 437.00H675.20" stroke="#5b3ce0" stroke-width="1.6"/>
<text x="590.35" y="441.20" font-size="11.2" textLength="14.5" lengthAdjust="spacingAndGlyphs" fill="#231f20" stroke="#231f20" stroke-width="0.3">2%</text>
<rect x="637.20" y="430.50" width="21.80" height="13.00" fill="#fff"/>
<text x="640.85" y="441.10" font-size="11.2" textLength="15.3" lengthAdjust="spacingAndGlyphs" fill="#231f20" stroke="#231f20" stroke-width="0.3">6%</text>
<rect x="685.2" y="430.5" width="22" height="13" fill="#fff"/>
<text x="685.55" y="441.20" font-size="11.2" textLength="21.22" lengthAdjust="spacingAndGlyphs" fill="#231f20" stroke="#231f20" stroke-width="0.3">92%</text>
<text transform="translate(11.7,279.9) rotate(-90)" font-size="13.5" fill="#231f20" stroke="#231f20" stroke-width="0.3" textLength="62.6" lengthAdjust="spacingAndGlyphs">Frequency</text>
<text x="382.40" y="513.30" font-size="13.0" textLength="23.6" lengthAdjust="spacingAndGlyphs" fill="#231f20" stroke="#231f20" stroke-width="0.3">ΔAn</text>
<text x="47.55" y="420.30" font-size="12.5" textLength="82.78" lengthAdjust="spacingAndGlyphs" fill="#231f20" stroke="#231f20" stroke-width="0.3">Melt inclusion</text>
<text x="54.95" y="436.70" font-size="12.5" textLength="67.13" lengthAdjust="spacingAndGlyphs" fill="#231f20" stroke="#231f20" stroke-width="0.3">quench rim</text>
<path d="M95.90 440.50L94.94 462.11" stroke="#231f20" stroke-width="1.7"/>
<path d="M94.70 467.60L91.99 460.97L94.92 462.60L97.98 461.24Z" fill="#231f20"/>
<path d="M119.60 440.90L115.60 462.59" stroke="#231f20" stroke-width="1.7"/>
<path d="M114.60 468.00L112.83 461.06L115.51 463.08L118.73 462.15Z" fill="#231f20"/>
<path d="M121.50 439.70L128.60 455.96" stroke="#231f20" stroke-width="1.7"/>
<path d="M130.80 461.00L125.45 456.24L128.80 456.42L130.95 453.84Z" fill="#231f20"/>
<path d="M123.90 438.60L141.20 454.93" stroke="#231f20" stroke-width="1.7"/>
<path d="M145.20 458.70L138.41 456.42L141.56 455.27L142.53 452.06Z" fill="#231f20"/>
</svg>
</body></html>
